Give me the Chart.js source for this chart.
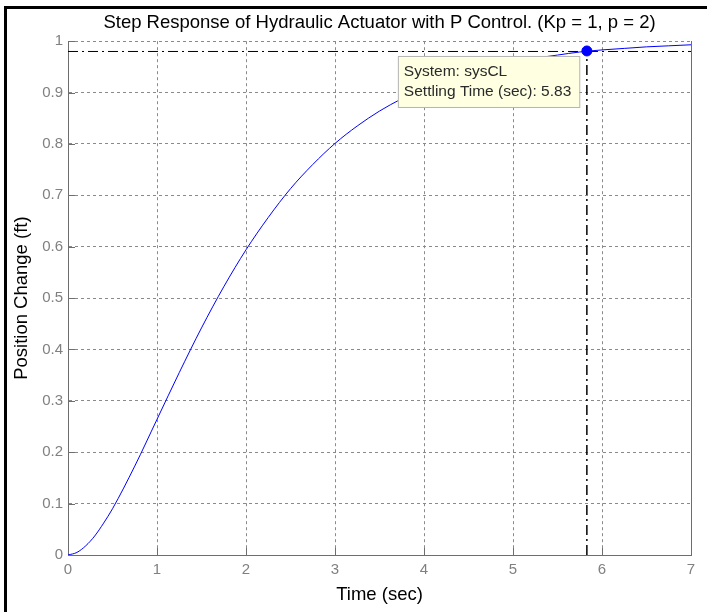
<!DOCTYPE html>
<html>
<head>
<meta charset="utf-8">
<script src="https://cdn.jsdelivr.net/npm/chart.js@4"></script>
<style>
  html, body { margin: 0; padding: 0; background: #fff; }
  #wrap { width: 707px; height: 612px; }
</style>
</head>
<body>
<div id="wrap"><canvas id="chart" width="707" height="612"></canvas></div>
<script>
// Step response (time in sec, position in ft)
const times = [0, 0.1, 0.2, 0.3, 0.4, 0.5, 0.75, 1, 1.25, 1.5, 1.75, 2, 2.25, 2.5, 2.75, 3, 3.25, 3.5,
               3.75, 4, 4.25, 4.5, 4.75, 5, 5.25, 5.5, 5.75, 6, 6.25, 6.5, 6.75, 7];
const response = [0, 0.005, 0.018, 0.037, 0.062, 0.090, 0.173, 0.264, 0.355, 0.442, 0.522, 0.594,
                  0.657, 0.713, 0.760, 0.801, 0.835, 0.864, 0.888, 0.908, 0.925, 0.939, 0.950,
                  0.960, 0.967, 0.973, 0.979, 0.983, 0.986, 0.989, 0.991, 0.993];

// settling time marker
const settleTime = 5.83;
const settleValue = 0.981;
const settleBand = 0.98;

const xTicks = [0, 1, 2, 3, 4, 5, 6, 7];
const yTicks = [0, 0.1, 0.2, 0.3, 0.4, 0.5, 0.6, 0.7, 0.8, 0.9, 1];

const tipLines = ['System: sysCL', 'Settling Time (sec): ' + settleTime.toFixed(2)];

const FONT = '"Liberation Sans", Arial, sans-serif';
const gridGray = '#8a8a8a';
const tickGray = '#808080';
const axisGray = '#6e6e6e';

// black frame on left/top edge of the figure
const framePlugin = {
    id: 'frame',
    beforeDraw(chart) {
        const c = chart.ctx;
        c.save();
        c.fillStyle = '#fff';
        c.fillRect(0, 0, chart.width, chart.height);
        c.fillStyle = '#000';
        c.fillRect(4, 6, 3, chart.height - 6);
        c.fillRect(4, 6, chart.width - 4, 3);
        c.restore();
    }
};

// short tick marks pointing into the axes, matlab style
const innerTicks = {
    id: 'innerTicks',
    beforeDatasetsDraw(chart) {
        const c = chart.ctx;
        const a = chart.chartArea;
        const len = 7;
        c.save();
        c.strokeStyle = axisGray;
        c.lineWidth = 1;
        c.beginPath();
        xTicks.forEach(v => {
            const px = Math.round(chart.scales.x.getPixelForValue(v)) + 0.5;
            c.moveTo(px, a.bottom);
            c.lineTo(px, a.bottom - len);
        });
        yTicks.forEach(v => {
            const py = Math.round(chart.scales.y.getPixelForValue(v)) + 0.5;
            c.moveTo(a.left, py);
            c.lineTo(a.left + len, py);
        });
        c.stroke();
        c.restore();
    }
};

// data tip box next to the settling marker
const tipPlugin = {
    id: 'tip',
    afterDatasetsDraw(chart) {
        const c = chart.ctx;
        const px = chart.scales.x.getPixelForValue(settleTime);
        const py = chart.scales.y.getPixelForValue(settleValue);
        c.save();
        c.font = '15.5px ' + FONT;
        const w = Math.max(...tipLines.map(t => c.measureText(t).width)) + 14;
        const h = 51;
        const left = px - 189;
        const top = py + 5;
        c.fillStyle = '#ffffe1';
        c.fillRect(left, top, w, h);
        c.strokeStyle = '#b4b4b4';
        c.lineWidth = 1;
        c.strokeRect(left + 0.5, top + 0.5, w, h);
        c.fillStyle = '#2a2a2a';
        c.textBaseline = 'middle';
        c.fillText(tipLines[0], left + 6, top + 16);
        c.fillText(tipLines[1], left + 6, top + 36);
        c.restore();
    }
};

new Chart(document.getElementById('chart'), {
    type: 'line',
    data: {
        datasets: [
            {
                label: 'marker',
                data: [{ x: settleTime, y: settleValue }],
                showLine: false,
                pointRadius: 5,
                pointBackgroundColor: '#0000ff',
                pointBorderColor: '#0000ff',
                order: 0
            },
            {
                label: 'sysCL',
                data: times.map((t, i) => ({ x: t, y: response[i] })),
                borderColor: '#0000ff',
                borderWidth: 1,
                pointRadius: 0,
                cubicInterpolationMode: 'monotone',
                order: 1
            },
            {
                label: 'band',
                data: [{ x: 0, y: settleBand }, { x: 7, y: settleBand }],
                borderColor: '#000',
                borderWidth: 1,
                borderDash: [10, 4, 2, 4],
                pointRadius: 0,
                order: 2
            },
            {
                label: 'settle',
                data: [{ x: settleTime, y: 0 }, { x: settleTime, y: settleBand }],
                borderColor: '#000',
                borderWidth: 1.5,
                borderDash: [10, 4, 2, 4],
                pointRadius: 0,
                order: 2
            }
        ]
    },
    options: {
        responsive: false,
        animation: false,
        layout: { padding: { left: 0, right: 0, top: 0, bottom: 0 } },
        plugins: {
            legend: { display: false },
            tooltip: { enabled: false },
            title: {
                display: true,
                text: 'Step Response of Hydraulic Actuator with P Control. (Kp = 1, p = 2)',
                fullSize: false,
                color: '#000',
                font: { family: FONT, size: 18.5, weight: 'normal' },
                padding: { top: 12, bottom: 7 }
            }
        },
        scales: {
            x: {
                type: 'linear',
                min: 0,
                max: 7,
                afterBuildTicks: s => { s.ticks = xTicks.map(v => ({ value: v })); },
                ticks: { color: tickGray, font: { family: FONT, size: 15 }, padding: 6 },
                grid: { color: gridGray, drawTicks: false },
                border: { display: true, color: axisGray, width: 1, dash: [3, 3] },
                title: {
                    display: true,
                    text: 'Time (sec)',
                    color: '#000',
                    font: { family: FONT, size: 18.5 },
                    padding: { top: 0, bottom: 6 }
                },
                afterFit: s => { s.height = 57; }
            },
            y: {
                min: 0,
                max: 1,
                afterBuildTicks: s => { s.ticks = yTicks.map(v => ({ value: v })); },
                ticks: {
                    color: tickGray,
                    font: { family: FONT, size: 15 },
                    padding: 5,
                    callback: v => String(Math.round(v * 10) / 10)
                },
                grid: { color: gridGray, drawTicks: false },
                border: { display: true, color: axisGray, width: 1, dash: [3, 3] },
                title: {
                    display: true,
                    text: 'Position Change (ft)',
                    color: '#000',
                    font: { family: FONT, size: 18.5 },
                    padding: { top: 11, bottom: 0 }
                },
                afterFit: s => { s.width = 68; }
            },
            y2: {
                position: 'right',
                min: 0,
                max: 1,
                ticks: { display: false },
                grid: { display: false, drawTicks: false },
                border: { display: true, color: axisGray, width: 1 },
                afterFit: s => { s.width = 16; }
            }
        }
    },
    plugins: [framePlugin, innerTicks, tipPlugin]
});
</script>
</body>
</html>
